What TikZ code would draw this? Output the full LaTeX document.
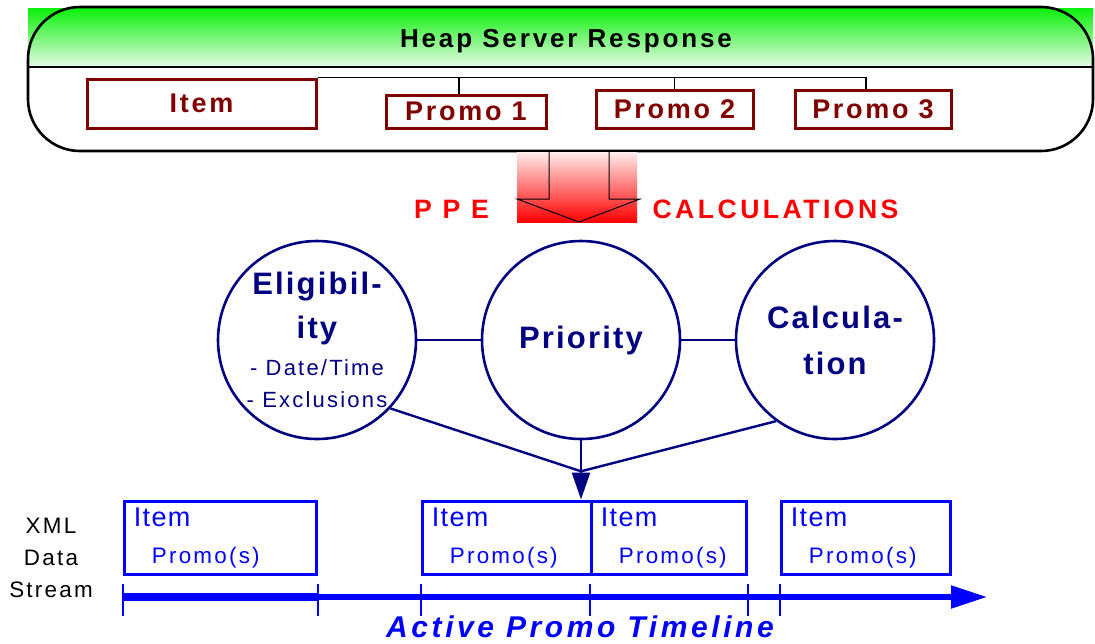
\documentclass[tikz,border=0pt]{standalone}
\usepackage{fontspec}
\setmainfont{Liberation Sans}
\usetikzlibrary{positioning,arrows.meta,shadings}

\definecolor{dred}{RGB}{128,0,0}
\definecolor{navy}{RGB}{0,0,128}
\definecolor{sblue}{RGB}{0,0,255}
\definecolor{lgreen}{RGB}{10,240,10}
\definecolor{pgreen}{RGB}{232,250,232}
\definecolor{pred}{RGB}{255,236,236}

\newcommand{\lsfont}[2]{\fontsize{#1}{#2}\selectfont\addfontfeature{LetterSpace=10}}
\newcommand{\stagefont}{\fontsize{15.5}{23}\selectfont\bfseries\addfontfeature{LetterSpace=7}}

\tikzset{
  promobox/.style={draw=dred, line width=1.5pt, text=dred, inner sep=0pt,
    font=\lsfont{13.5}{16}\bfseries},
  stage/.style={circle, draw=navy, line width=1.3pt, minimum size=99pt,
    inner sep=0pt, text=navy, align=center, font=\stagefont},
  link/.style={draw=navy, line width=1.2pt},
  bus/.style={draw=black, line width=0.7pt},
  redtxt/.style={text=red, font=\fontsize{13.3}{16}\selectfont\bfseries\addfontfeature{LetterSpace=13}},
  streambox/.style={draw=sblue, line width=1.5pt, minimum height=36.5pt, inner sep=0pt},
  itemtxt/.style={text=sblue, inner sep=0pt, font=\fontsize{13.5}{16}\selectfont\addfontfeature{LetterSpace=5}},
  promotxt/.style={text=sblue, inner sep=0pt, font=\lsfont{11.2}{16}},
  tick/.style={draw=sblue, line width=1pt}
}

\begin{document}
\begin{tikzpicture}[x=0.5pt, y=-0.5pt, on grid]
  \useasboundingbox (0,0) rectangle (1095,643);

  % response envelope
  \shade[top color=lgreen, bottom color=pgreen] (28,8) rectangle (1093,67);
  \node[draw, line width=1.3pt, rounded corners=26pt,
        minimum width=532.5pt, minimum height=72pt] (heap) at (560.5,79) {};
  \draw[line width=1.3pt] (heap.west |- 0,67) -- (heap.east |- 0,67);
  \node[anchor=base, font=\fontsize{13}{15}\selectfont\bfseries\addfontfeature{LetterSpace=11}]
        (title) at (566,47.5) {Heap Server Response};

  \node[promobox, minimum width=114.5pt, minimum height=24.5pt] (item) at (201.5,103.5) {Item};
  \node[promobox, minimum width=80pt, minimum height=16.5pt] (p1) at (466,111.5) {Promo 1};
  \node[promobox, minimum width=78.5pt, minimum height=19pt] (p2) at (674.5,109) {Promo 2};
  \node[promobox, minimum width=78pt, minimum height=19pt] (p3) at (873,109) {Promo 3};
  \draw[bus] (item.north east) -| ([xshift=-3.5pt]p1.north);
  \draw[bus] (item.north east) -| (p2.north);
  \draw[bus] (item.north east) -| ([xshift=-3.5pt]p3.north);

  % PPE block arrow
  \shade[top color=pred, bottom color=red] (517,152) rectangle (637,222);
  \draw[line width=0.5pt] (549,152) -- (549,199) -- (517,199) -- (579,222)
        -- (640,199) -- (609,199) -- (609,152);
  \node[redtxt, anchor=base] (ppe) at (451.5,218) {P P E};
  \node[redtxt, anchor=base] (calcs) at (775.5,218) {CALCULATIONS};

  % stages
  \node[stage] (prio) at (581,340) {Priority};
  \node[stage, left=132pt of prio] (elig) {};
  \node[stage, right=127pt of prio] (calc) {Calcula-\\tion};
  \node[text=navy, inner sep=0pt, anchor=north, align=center, font=\lsfont{11}{16}]
        (eligtxt) at ([yshift=34.3pt]elig.center)
        {{\stagefont Eligibil-}\\[6pt]
         {\stagefont ity}\\[2.5pt]
         - Date/Time\\ - Exclusions};
  \draw[link] (elig) -- (prio);
  \draw[link] (prio) -- (calc);

  \coordinate[below=15.5pt of prio.south] (merge);
  \draw[link] (elig.-43) -- (merge) -- (calc.234);
  \draw[link] (prio.south) -- (merge);

  % data stream
  \foreach \n/\xa/\xb in {1/124/316, 2/422/591, 3/591/746, 4/781/950} {
    \node[streambox, minimum width={(\xb-\xa)*0.5pt}] (b\n) at ({(\xa+\xb)/2},537.5) {};
    \node[itemtxt, anchor=base west] (sitem\n) at ([shift={(11,27)}]b\n.north west) {Item};
    \node[promotxt, anchor=base west] (spromo\n) at ([shift={(29,64)}]b\n.north west) {Promo(s)};
  }
  \draw[link, -{Triangle[length=13.5pt,width=9pt]}] (merge) -- (merge |- b2.north);

  \node[align=center, inner sep=0pt, font=\lsfont{11.2}{16}] (xml) at (51,558) {XML\\Data\\Stream};

  % timeline
  \foreach \c in {b1.south west, b1.south east, b2.south west, b3.south west, b3.south east, b4.south west}
    \draw[tick] ([yshift=-4pt]\c) -- ++(0,32);
  \coordinate (tstart) at (b1.south west |- 0,597);
  \coordinate (tend) at (987,597);
  \draw[sblue, line width=2.6pt, -{Triangle[length=18pt,width=11pt]}] (tstart) -- (tend);
  \draw[sblue, line width=3.6pt] (tstart) -- (tstart -| b1.south east);
  \node[anchor=base, text=sblue, font=\fontsize{15}{17}\selectfont\bfseries\itshape\addfontfeature{LetterSpace=12}]
        (tline) at (580,637) {Active Promo Timeline};
\end{tikzpicture}
\end{document}
